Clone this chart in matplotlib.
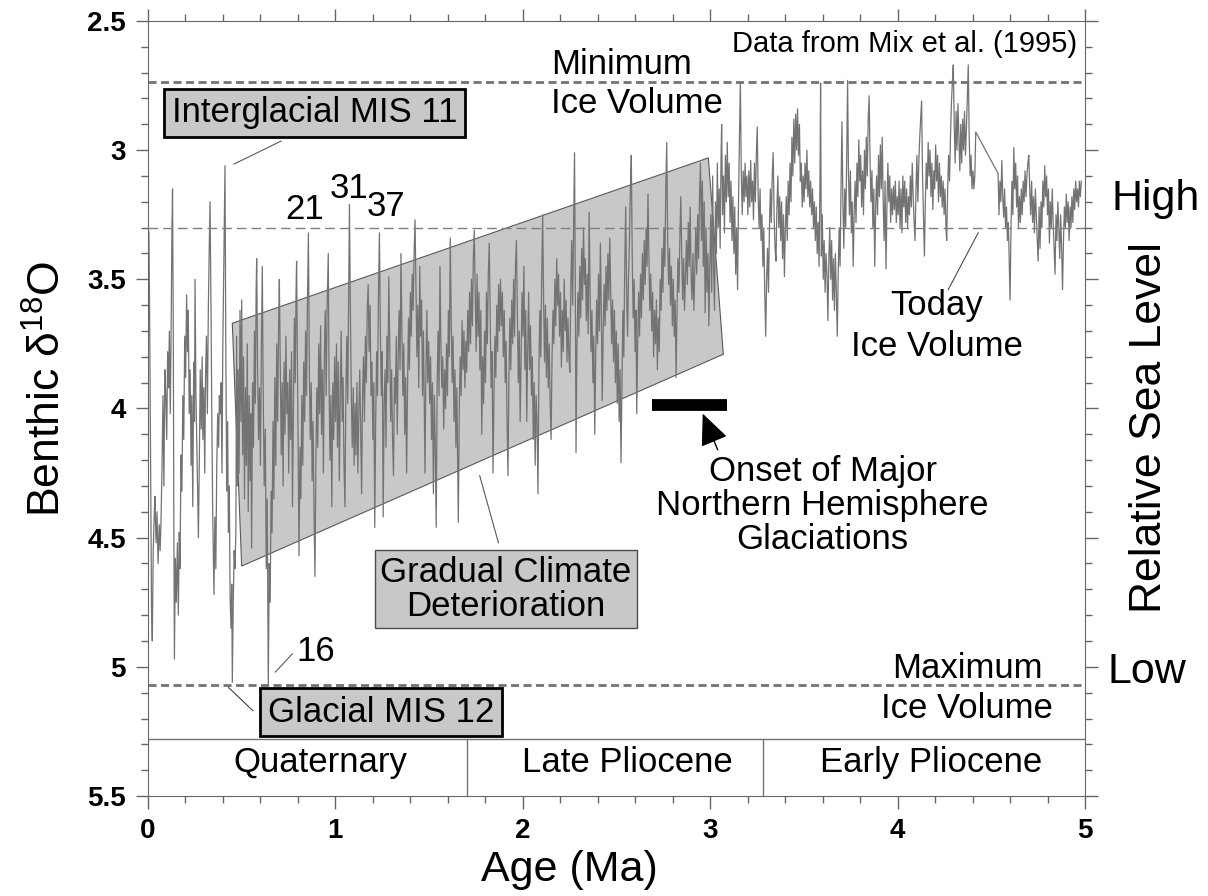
import numpy as np
import matplotlib
matplotlib.use("Agg")
import matplotlib.pyplot as plt

plt.rcParams['font.family'] = ['Liberation Sans', 'DejaVu Sans']
plt.rcParams['mathtext.fontset'] = 'custom'
plt.rcParams['mathtext.rm'] = 'Liberation Sans'

# benthic d18O record, split by 1 Ma blocks
age_0 = [0.000, 0.005, 0.009, 0.014, 0.019, 0.023, 0.028, 0.033, 0.037, 0.043, 0.048, 0.054, 0.060, 0.065, 0.070,
         0.075, 0.080, 0.085, 0.090, 0.095, 0.100, 0.105, 0.110, 0.114, 0.119, 0.124, 0.128, 0.131, 0.135, 0.138,
         0.141, 0.146, 0.151, 0.157, 0.162, 0.167, 0.171, 0.176, 0.181, 0.186, 0.191, 0.196, 0.201, 0.206, 0.211,
         0.215, 0.220, 0.225, 0.230, 0.234, 0.239, 0.244, 0.248, 0.251, 0.256, 0.261, 0.265, 0.269, 0.274, 0.279,
         0.284, 0.289, 0.293, 0.298, 0.303, 0.307, 0.312, 0.317, 0.322, 0.326, 0.331, 0.336, 0.340, 0.345, 0.349,
         0.352, 0.357, 0.362, 0.367, 0.372, 0.377, 0.381, 0.386, 0.390, 0.395, 0.399, 0.403, 0.407, 0.411, 0.415,
         0.420, 0.425, 0.429, 0.434, 0.438, 0.443, 0.447, 0.450, 0.455, 0.460, 0.464, 0.469, 0.473, 0.477, 0.481,
         0.486, 0.491, 0.496, 0.500, 0.505, 0.510, 0.515, 0.520, 0.525, 0.530, 0.535, 0.540, 0.545, 0.549, 0.553,
         0.558, 0.563, 0.568, 0.573, 0.577, 0.580, 0.585, 0.590, 0.595, 0.600, 0.605, 0.610, 0.615, 0.620, 0.626,
         0.631, 0.636, 0.642, 0.647, 0.652, 0.657, 0.662, 0.667, 0.672, 0.677, 0.682, 0.687, 0.692, 0.697, 0.701,
         0.706, 0.711, 0.716, 0.721, 0.726, 0.731, 0.736, 0.741, 0.746, 0.751, 0.756, 0.761, 0.766, 0.771, 0.776,
         0.781, 0.786, 0.790, 0.793, 0.798, 0.802, 0.806, 0.811, 0.816, 0.821, 0.826, 0.831, 0.836, 0.841, 0.846,
         0.851, 0.856, 0.861, 0.866, 0.871, 0.876, 0.881, 0.886, 0.891, 0.896, 0.901, 0.906, 0.911, 0.916, 0.921,
         0.926, 0.931, 0.936, 0.941, 0.946, 0.951, 0.956, 0.962, 0.966, 0.971, 0.976, 0.981, 0.986, 0.991, 0.996]
d18o_0 = [3.30, 3.32, 3.65, 4.25, 4.78, 4.90, 4.55, 4.42, 4.34, 4.52, 4.40, 4.60, 4.45, 4.55, 4.42,
          4.22, 3.95, 4.30, 3.85, 3.95, 4.12, 3.78, 3.92, 3.70, 4.02, 3.65, 3.30, 3.15, 3.70, 4.45,
          4.97, 4.58, 4.75, 4.52, 4.80, 4.48, 4.62, 4.18, 4.32, 3.95, 4.12, 3.72, 3.88, 3.56, 3.78,
          3.62, 4.02, 3.85, 4.22, 3.95, 4.38, 3.82, 4.05, 3.50, 3.95, 4.15, 4.32, 4.50, 4.20, 3.85,
          4.08, 3.80, 4.12, 3.92, 4.25, 3.88, 3.72, 4.02, 3.62, 3.42, 3.20, 3.58, 3.98, 4.38, 4.58,
          4.72, 4.42, 4.62, 4.22, 4.02, 4.15, 3.95, 4.02, 3.90, 4.25, 3.78, 3.55, 3.30, 3.06, 3.72,
          4.32, 4.05, 4.48, 4.30, 4.72, 4.85, 4.68, 5.06, 4.75, 4.55, 4.62, 4.48, 3.72, 4.30, 3.85,
          4.25, 3.62, 4.05, 3.58, 4.18, 3.80, 4.35, 3.92, 4.22, 3.75, 4.40, 3.95, 4.28, 4.02, 4.54,
          3.90, 4.15, 3.70, 3.98, 3.55, 3.42, 3.85, 4.12, 3.92, 4.22, 3.78, 3.45, 3.95, 4.30, 4.08,
          4.62, 4.35, 5.07, 4.60, 4.75, 4.32, 4.48, 4.05, 4.35, 3.88, 4.22, 3.75, 4.05, 3.68, 3.50,
          3.85, 4.18, 3.90, 4.30, 3.82, 4.10, 3.72, 4.02, 3.90, 4.25, 3.85, 4.12, 3.78, 4.38, 4.00,
          3.65, 3.90, 3.55, 3.43, 3.88, 4.25, 4.57, 4.15, 4.35, 3.95, 4.22, 3.82, 4.05, 3.70, 3.95,
          3.58, 3.32, 3.85, 4.12, 3.90, 4.28, 4.05, 4.40, 4.65, 4.20, 3.92, 4.15, 3.75, 4.02, 3.68,
          4.10, 3.85, 4.25, 3.80, 3.62, 3.95, 3.60, 3.40, 3.88, 4.20, 3.95, 4.38, 3.90, 4.12, 3.80]

age_1 = [1.001, 1.006, 1.011, 1.016, 1.021, 1.026, 1.031, 1.036, 1.041, 1.046, 1.051, 1.056, 1.061, 1.066, 1.071,
         1.075, 1.080, 1.085, 1.090, 1.095, 1.100, 1.105, 1.110, 1.115, 1.120, 1.125, 1.130, 1.135, 1.140, 1.145,
         1.150, 1.155, 1.160, 1.165, 1.170, 1.175, 1.180, 1.185, 1.190, 1.195, 1.200, 1.205, 1.210, 1.215, 1.220,
         1.225, 1.230, 1.235, 1.240, 1.245, 1.250, 1.255, 1.260, 1.265, 1.270, 1.275, 1.280, 1.285, 1.290, 1.295,
         1.300, 1.305, 1.310, 1.315, 1.320, 1.325, 1.330, 1.335, 1.340, 1.345, 1.350, 1.355, 1.360, 1.365, 1.370,
         1.375, 1.380, 1.385, 1.390, 1.395, 1.400, 1.405, 1.410, 1.415, 1.420, 1.425, 1.430, 1.435, 1.440, 1.445,
         1.450, 1.455, 1.460, 1.465, 1.470, 1.475, 1.478, 1.483, 1.488, 1.493, 1.498, 1.503, 1.508, 1.513, 1.518,
         1.523, 1.528, 1.533, 1.538, 1.543, 1.548, 1.553, 1.558, 1.563, 1.568, 1.573, 1.578, 1.583, 1.588, 1.593,
         1.598, 1.603, 1.608, 1.613, 1.618, 1.623, 1.628, 1.633, 1.638, 1.643, 1.648, 1.653, 1.656, 1.661, 1.666,
         1.671, 1.676, 1.681, 1.686, 1.691, 1.696, 1.701, 1.706, 1.711, 1.716, 1.721, 1.726, 1.731, 1.736, 1.741,
         1.746, 1.751, 1.756, 1.761, 1.766, 1.771, 1.776, 1.781, 1.786, 1.791, 1.796, 1.801, 1.806, 1.811, 1.816,
         1.821, 1.826, 1.831, 1.836, 1.841, 1.846, 1.851, 1.856, 1.861, 1.866, 1.871, 1.876, 1.881, 1.886, 1.891,
         1.896, 1.901, 1.906, 1.911, 1.916, 1.921, 1.926, 1.931, 1.936, 1.941, 1.946, 1.951, 1.956, 1.961, 1.966,
         1.971, 1.976, 1.981, 1.986, 1.991, 1.996]
d18o_1 = [4.05, 3.75, 4.15, 3.82, 4.28, 3.95, 3.70, 4.05, 3.88, 4.22, 4.38, 3.95, 3.72, 3.98, 3.55,
          3.21, 3.62, 3.95, 4.15, 3.92, 4.22, 3.98, 4.18, 3.90, 4.25, 4.02, 3.85, 4.10, 4.33, 3.95,
          3.80, 4.05, 3.72, 3.90, 3.62, 3.52, 3.78, 3.60, 3.95, 3.82, 4.12, 3.90, 4.46, 4.05, 3.78,
          3.95, 3.55, 3.32, 3.70, 3.95, 3.78, 4.42, 3.98, 3.85, 4.15, 3.72, 3.90, 3.49, 3.75, 4.05,
          3.85, 4.12, 4.26, 3.88, 3.98, 3.72, 4.10, 3.80, 3.62, 3.85, 3.40, 3.70, 3.95, 3.75, 4.10,
          3.88, 4.25, 3.92, 3.65, 3.85, 3.55, 3.72, 3.48, 3.62, 3.40, 3.27, 3.55, 3.80, 3.60, 3.92,
          3.45, 3.72, 3.58, 3.95, 3.70, 4.05, 4.25, 3.85, 3.62, 3.90, 3.74, 3.98, 3.80, 4.12, 3.90,
          4.33, 3.95, 4.15, 4.46, 3.90, 3.70, 3.95, 3.45, 3.75, 3.92, 3.80, 4.08, 3.85, 4.00, 3.75,
          3.95, 3.62, 3.80, 3.34, 3.65, 3.90, 3.72, 4.05, 3.85, 4.15, 3.92, 4.25, 4.44, 4.00, 3.80,
          3.95, 3.66, 3.85, 3.70, 3.92, 3.74, 3.86, 3.62, 3.78, 3.55, 3.75, 3.50, 3.68, 3.42, 3.31,
          3.55, 3.78, 3.48, 3.72, 3.55, 3.85, 3.62, 4.10, 3.80, 3.98, 3.70, 3.90, 3.55, 3.75, 3.48,
          3.36, 3.65, 3.92, 3.78, 4.25, 3.95, 3.72, 3.88, 3.60, 3.78, 3.52, 3.70, 3.50, 3.68, 3.55,
          3.80, 3.62, 3.90, 3.74, 4.05, 4.26, 3.88, 3.65, 3.85, 3.58, 3.75, 3.50, 3.72, 3.45, 3.35,
          3.62, 3.90, 3.70, 4.05, 3.80, 3.55]

age_2 = [2.001, 2.006, 2.011, 2.016, 2.021, 2.026, 2.031, 2.036, 2.041, 2.046, 2.051, 2.056, 2.061, 2.066, 2.071,
         2.076, 2.081, 2.086, 2.091, 2.096, 2.101, 2.106, 2.111, 2.116, 2.121, 2.126, 2.131, 2.136, 2.141, 2.146,
         2.151, 2.156, 2.161, 2.166, 2.171, 2.176, 2.181, 2.186, 2.191, 2.196, 2.201, 2.206, 2.211, 2.216, 2.221,
         2.226, 2.231, 2.236, 2.241, 2.246, 2.251, 2.256, 2.261, 2.266, 2.271, 2.276, 2.280, 2.284, 2.289, 2.294,
         2.299, 2.304, 2.309, 2.314, 2.319, 2.324, 2.329, 2.334, 2.339, 2.344, 2.349, 2.354, 2.359, 2.364, 2.369,
         2.374, 2.379, 2.384, 2.389, 2.394, 2.399, 2.404, 2.409, 2.414, 2.419, 2.424, 2.429, 2.434, 2.439, 2.444,
         2.449, 2.454, 2.459, 2.464, 2.469, 2.474, 2.479, 2.484, 2.489, 2.494, 2.499, 2.504, 2.509, 2.514, 2.519,
         2.524, 2.529, 2.534, 2.539, 2.544, 2.549, 2.554, 2.559, 2.564, 2.569, 2.574, 2.579, 2.584, 2.589, 2.594,
         2.599, 2.604, 2.608, 2.613, 2.618, 2.623, 2.628, 2.633, 2.638, 2.643, 2.648, 2.653, 2.658, 2.663, 2.668,
         2.673, 2.678, 2.683, 2.688, 2.693, 2.698, 2.703, 2.708, 2.713, 2.718, 2.723, 2.728, 2.733, 2.738, 2.743,
         2.748, 2.753, 2.758, 2.763, 2.768, 2.773, 2.778, 2.783, 2.788, 2.793, 2.798, 2.803, 2.808, 2.813, 2.818,
         2.823, 2.828, 2.833, 2.838, 2.843, 2.848, 2.853, 2.858, 2.863, 2.868, 2.873, 2.878, 2.883, 2.888, 2.893,
         2.898, 2.903, 2.908, 2.913, 2.918, 2.923, 2.928, 2.933, 2.938, 2.943, 2.948, 2.953, 2.958, 2.963, 2.968,
         2.973, 2.978, 2.983, 2.988, 2.993, 2.998]
d18o_2 = [3.72, 3.45, 3.85, 3.62, 4.05, 3.78, 3.55, 3.85, 3.68, 3.95, 3.80, 4.12, 3.90, 4.22, 3.95,
          4.05, 4.33, 3.85, 3.62, 3.80, 3.48, 3.25, 3.58, 3.82, 3.60, 3.88, 3.65, 3.92, 3.75, 3.98,
          4.12, 3.80, 3.62, 3.75, 3.50, 3.68, 3.42, 3.60, 3.48, 3.72, 3.55, 3.84, 3.62, 3.78, 3.50,
          3.70, 3.58, 3.82, 3.65, 3.80, 3.86, 3.55, 3.35, 3.60, 3.30, 3.01, 3.50, 4.17, 3.75, 3.55,
          3.72, 3.45, 3.65, 3.38, 3.58, 3.30, 3.52, 3.42, 3.66, 3.48, 3.71, 3.24, 3.55, 3.78, 3.62,
          3.90, 3.72, 4.10, 3.80, 3.58, 3.75, 3.48, 3.70, 3.36, 3.62, 3.97, 3.70, 3.52, 3.68, 3.45,
          3.62, 3.40, 3.58, 3.34, 3.55, 3.75, 3.58, 3.82, 3.62, 3.90, 3.70, 3.98, 3.75, 4.05, 3.85,
          4.21, 3.90, 3.62, 3.80, 3.45, 3.22, 3.55, 3.72, 3.50, 3.35, 3.15, 3.02, 3.42, 3.65, 3.50,
          3.78, 3.62, 4.02, 3.75, 3.55, 3.72, 3.48, 3.65, 3.40, 3.58, 3.35, 3.52, 3.30, 3.45, 3.17,
          3.42, 3.62, 3.48, 3.70, 3.55, 3.80, 3.62, 3.75, 3.58, 3.85, 3.65, 3.78, 3.50, 3.62, 3.38,
          3.55, 3.30, 3.45, 3.15, 2.97, 3.35, 3.52, 3.38, 3.60, 3.45, 3.68, 3.50, 3.72, 3.58, 3.88,
          3.62, 3.42, 3.55, 3.35, 3.18, 3.40, 3.58, 3.42, 3.62, 3.48, 3.35, 3.52, 3.28, 3.45, 3.22,
          3.48, 3.58, 3.40, 3.62, 3.45, 3.30, 3.48, 3.25, 3.42, 3.18, 3.05, 3.35, 3.12, 3.45, 3.20,
          3.63, 3.30, 3.55, 3.40, 3.68, 3.45]

age_3 = [3.003, 3.008, 3.013, 3.018, 3.023, 3.028, 3.033, 3.038, 3.043, 3.048, 3.053, 3.058, 3.061, 3.066, 3.071,
         3.076, 3.081, 3.086, 3.091, 3.096, 3.101, 3.106, 3.111, 3.116, 3.121, 3.126, 3.131, 3.136, 3.141, 3.146,
         3.151, 3.156, 3.161, 3.166, 3.171, 3.176, 3.181, 3.186, 3.191, 3.196, 3.201, 3.206, 3.211, 3.216, 3.221,
         3.226, 3.231, 3.236, 3.241, 3.246, 3.251, 3.256, 3.261, 3.266, 3.271, 3.276, 3.281, 3.286, 3.291, 3.296,
         3.301, 3.306, 3.311, 3.316, 3.321, 3.326, 3.331, 3.336, 3.341, 3.346, 3.351, 3.356, 3.361, 3.366, 3.371,
         3.376, 3.381, 3.386, 3.391, 3.396, 3.401, 3.406, 3.411, 3.416, 3.421, 3.426, 3.431, 3.436, 3.441, 3.446,
         3.451, 3.456, 3.461, 3.466, 3.471, 3.476, 3.481, 3.486, 3.491, 3.496, 3.501, 3.506, 3.511, 3.516, 3.521,
         3.526, 3.531, 3.536, 3.541, 3.546, 3.551, 3.556, 3.561, 3.566, 3.571, 3.576, 3.581, 3.586, 3.589, 3.593,
         3.598, 3.603, 3.608, 3.613, 3.618, 3.623, 3.628, 3.633, 3.638, 3.643, 3.648, 3.653, 3.658, 3.663, 3.668,
         3.673, 3.678, 3.683, 3.688, 3.693, 3.698, 3.703, 3.708, 3.713, 3.718, 3.723, 3.728, 3.733, 3.738, 3.743,
         3.748, 3.753, 3.758, 3.763, 3.768, 3.773, 3.778, 3.783, 3.788, 3.793, 3.798, 3.803, 3.808, 3.813, 3.818,
         3.823, 3.828, 3.833, 3.838, 3.843, 3.848, 3.853, 3.858, 3.863, 3.868, 3.873, 3.878, 3.883, 3.888, 3.893,
         3.898, 3.903, 3.908, 3.913, 3.918, 3.923, 3.928, 3.933, 3.938, 3.943, 3.948, 3.953, 3.958, 3.963, 3.968,
         3.973, 3.978, 3.983, 3.988, 3.993, 3.998]
d18o_3 = [3.25, 3.55, 3.10, 3.45, 3.62, 3.20, 3.40, 3.05, 3.30, 3.15, 3.38, 3.02, 2.90, 3.25, 3.10,
          3.32, 3.02, 3.20, 2.97, 3.18, 3.05, 3.28, 3.12, 3.35, 3.18, 3.40, 3.22, 3.48, 3.30, 3.54,
          3.20, 2.95, 2.735, 3.10, 3.25, 3.08, 3.20, 3.05, 3.18, 3.10, 3.25, 3.08, 3.22, 3.04, 3.20,
          3.12, 3.27, 3.05, 3.20, 3.02, 2.91, 3.18, 3.30, 3.15, 3.35, 3.25, 3.45, 3.30, 3.55, 3.72,
          3.50, 3.38, 3.55, 3.30, 3.15, 3.28, 3.10, 3.01, 3.25, 3.38, 3.43, 3.22, 3.10, 3.30, 3.18,
          3.35, 3.20, 3.42, 3.25, 3.49, 3.30, 3.18, 3.35, 3.12, 3.25, 3.05, 3.20, 2.95, 3.10, 2.88,
          3.05, 2.86, 3.00, 2.84, 3.02, 2.90, 3.12, 3.05, 3.22, 3.10, 3.20, 3.05, 3.15, 3.00, 3.18,
          3.08, 3.22, 3.12, 3.25, 3.15, 3.30, 3.20, 3.35, 3.22, 3.40, 3.28, 3.45, 3.10, 2.74, 3.41,
          3.25, 3.50, 3.35, 3.55, 3.40, 3.48, 3.66, 3.42, 3.30, 3.50, 3.35, 3.58, 3.42, 3.62, 3.40,
          3.55, 3.72, 3.48, 3.30, 3.45, 3.15, 2.89, 3.20, 3.38, 3.15, 3.30, 3.05, 2.73, 3.10, 3.25,
          3.08, 3.32, 3.20, 3.45, 3.25, 3.12, 3.28, 3.05, 3.18, 2.96, 3.12, 3.02, 3.22, 3.08, 3.25,
          3.00, 3.15, 2.95, 3.10, 2.88, 2.79, 3.05, 3.20, 3.08, 3.30, 3.15, 3.45, 3.22, 3.10, 3.25,
          3.02, 3.18, 2.98, 3.15, 2.95, 3.20, 3.35, 3.12, 3.46, 3.22, 3.05, 3.20, 3.10, 3.28, 3.15,
          3.25, 3.14, 3.23, 3.12, 3.28, 3.18]

age_4 = [4.003, 4.008, 4.013, 4.018, 4.023, 4.028, 4.033, 4.038, 4.043, 4.048, 4.053, 4.058, 4.063, 4.068, 4.073,
         4.078, 4.083, 4.088, 4.093, 4.098, 4.103, 4.108, 4.113, 4.118, 4.123, 4.128, 4.133, 4.138, 4.143, 4.148,
         4.153, 4.158, 4.163, 4.168, 4.173, 4.178, 4.183, 4.188, 4.193, 4.198, 4.203, 4.208, 4.213, 4.218, 4.223,
         4.228, 4.233, 4.238, 4.243, 4.248, 4.253, 4.258, 4.262, 4.267, 4.272, 4.277, 4.282, 4.287, 4.292, 4.297,
         4.302, 4.307, 4.312, 4.317, 4.322, 4.327, 4.332, 4.337, 4.342, 4.347, 4.352, 4.357, 4.362, 4.367, 4.372,
         4.377, 4.382, 4.387, 4.392, 4.397, 4.402, 4.407, 4.412, 4.417, 4.536, 4.541, 4.546, 4.551, 4.556, 4.561,
         4.566, 4.571, 4.576, 4.581, 4.586, 4.591, 4.596, 4.600, 4.605, 4.610, 4.615, 4.620, 4.625, 4.630, 4.635,
         4.640, 4.645, 4.650, 4.655, 4.660, 4.665, 4.670, 4.675, 4.680, 4.685, 4.690, 4.695, 4.700, 4.705, 4.710,
         4.715, 4.720, 4.725, 4.730, 4.735, 4.740, 4.745, 4.750, 4.755, 4.760, 4.765, 4.770, 4.775, 4.780, 4.785,
         4.790, 4.795, 4.800, 4.805, 4.810, 4.815, 4.820, 4.825, 4.830, 4.835, 4.840, 4.845, 4.850, 4.855, 4.860,
         4.865, 4.870, 4.875, 4.880, 4.885, 4.890, 4.895, 4.900, 4.905, 4.910, 4.915, 4.920, 4.925, 4.930, 4.935,
         4.940, 4.945, 4.950, 4.955, 4.960, 4.965, 4.970, 4.975, 4.980]
d18o_4 = [3.25, 3.12, 3.30, 3.15, 3.32, 3.10, 3.22, 3.12, 3.28, 3.15, 3.30, 3.18, 3.25, 3.10, 3.22,
          3.05, 3.18, 3.28, 3.35, 3.15, 3.02, 3.20, 3.05, 2.95, 2.88, 2.81, 3.10, 3.25, 3.41, 3.20,
          3.05, 3.15, 2.97, 3.10, 3.00, 3.18, 3.05, 3.23, 3.08, 3.15, 2.98, 3.12, 3.02, 3.20, 3.05,
          3.18, 3.10, 3.22, 3.12, 3.25, 3.15, 3.30, 3.35, 3.15, 3.02, 3.12, 2.95, 2.82, 2.74, 2.67,
          2.90, 3.05, 2.85, 3.00, 2.82, 2.95, 3.08, 2.90, 3.05, 2.88, 3.00, 2.85, 3.02, 2.92, 2.80,
          2.67, 2.95, 3.10, 3.02, 3.15, 3.08, 3.15, 3.10, 2.93, 3.09, 3.25, 3.12, 3.20, 3.04, 3.18,
          3.26, 3.15, 3.30, 3.22, 3.35, 3.28, 3.45, 3.58, 3.30, 3.12, 3.25, 2.99, 3.15, 3.05, 3.22,
          3.10, 3.30, 3.18, 3.28, 3.15, 3.25, 3.12, 3.20, 3.08, 3.18, 3.10, 3.05, 3.02, 3.15, 3.25,
          3.12, 3.28, 3.18, 3.32, 3.15, 3.25, 3.35, 3.43, 3.22, 3.38, 3.20, 3.30, 3.12, 3.22, 3.06,
          3.18, 3.10, 3.25, 3.15, 3.36, 3.20, 3.30, 3.15, 3.28, 3.38, 3.48, 3.25, 3.35, 3.20, 3.30,
          3.42, 3.25, 3.38, 3.54, 3.35, 3.22, 3.30, 3.17, 3.28, 3.20, 3.35, 3.22, 3.30, 3.18, 3.28,
          3.15, 3.23, 3.12, 3.20, 3.15, 3.22, 3.12, 3.18, 3.12]

# "gradual climate deterioration" trend band (corners)
trend_age = [0.45, 2.99, 3.07, 0.50]
trend_d18o = [3.67, 3.03, 3.79, 4.61]

# reference levels
min_ice = 2.735
today_ice = 3.30
max_ice = 5.07
epoch_line = 5.28

epochs = ['Quaternary', 'Late Pliocene', 'Early Pliocene']
epoch_mid = [0.92, 2.56, 4.18]
epoch_bounds = [1.70, 3.28]

age = np.concatenate([age_0, age_1, age_2, age_3, age_4])
d18o = np.concatenate([d18o_0, d18o_1, d18o_2, d18o_3, d18o_4])

fig = plt.figure(figsize=(12.08, 8.96), dpi=100)
ax = fig.add_axes([0.1225, 0.1116, 0.7757, 0.8650])

ax.fill(trend_age, trend_d18o, facecolor='#c8c8c8', edgecolor='0.35', lw=0.8, zorder=1)
ax.plot(age, d18o, color='0.45', lw=0.9, zorder=2)

ax.axhline(min_ice, color='0.45', lw=2, ls=(0, (2.9, 1.6)), zorder=3)
ax.axhline(max_ice, color='0.45', lw=2, ls=(0, (2.9, 1.6)), zorder=3)
ax.axhline(today_ice, color='0.5', lw=1, ls=(0, (7, 3.6)), zorder=3)
ax.axhline(epoch_line, color='0.45', lw=1, zorder=3)
for b in epoch_bounds:
    ax.vlines(b, epoch_line, 5.5, color='0.45', lw=1, zorder=3)
for name, xm in zip(epochs, epoch_mid):
    ax.text(xm, 5.37, name, ha='center', va='center', fontsize=25)

# onset bar + arrow
ax.hlines(3.985, 2.69, 3.09, color='black', lw=8.5, zorder=4)
ax.annotate('', xy=(2.96, 4.02), xytext=(3.04, 4.16),
            arrowprops=dict(arrowstyle='-|>,head_length=0.9,head_width=0.4', color='black',
                            lw=1, mutation_scale=22, shrinkA=0, shrinkB=0), zorder=5)
ax.text(3.60, 4.375, 'Onset of Major\nNorthern Hemisphere\nGlaciations', ha='center', va='center',
        fontsize=25, linespacing=1.05)

box_thick = dict(boxstyle='square,pad=0.22', facecolor='#c8c8c8', edgecolor='black', lw=2)
box_thin = dict(boxstyle='square,pad=0.15', facecolor='#c8c8c8', edgecolor='0.3', lw=1)

ax.text(0.888, 2.856, 'Interglacial MIS 11', ha='center', va='center', fontsize=25, bbox=box_thick, zorder=6)
ax.plot([0.71, 0.459], [2.965, 3.054], color='0.35', lw=0.8, zorder=5)
ax.text(1.245, 5.175, 'Glacial MIS 12', ha='center', va='center', fontsize=25, bbox=box_thick, zorder=6)
ax.plot([0.43, 0.56], [5.08, 5.17], color='0.25', lw=0.8, zorder=5)
ax.text(1.91, 4.70, 'Gradual Climate\nDeterioration', ha='center', va='center', fontsize=25,
        linespacing=1.05, bbox=box_thin, zorder=6)
ax.plot([1.87, 1.77], [4.52, 4.26], color='0.35', lw=0.8, zorder=5)

ax.text(0.838, 3.23, '21', ha='center', va='center', fontsize=25)
ax.text(1.073, 3.147, '31', ha='center', va='center', fontsize=25)
ax.text(1.27, 3.22, '37', ha='center', va='center', fontsize=25)
ax.text(0.895, 4.94, '16', ha='center', va='center', fontsize=25)
ax.plot([0.77, 0.68], [4.95, 5.02], color='0.35', lw=0.8)

ax.text(2.15, 2.667, 'Minimum', ha='left', va='center', fontsize=25)
ax.text(2.15, 2.82, 'Ice Volume', ha='left', va='center', fontsize=25)
ax.text(4.96, 2.59, 'Data from Mix et al. (1995)', ha='right', va='center', fontsize=21)
ax.text(4.21, 3.60, 'Today', ha='center', va='center', fontsize=25)
ax.text(4.21, 3.76, 'Ice Volume', ha='center', va='center', fontsize=25)
ax.plot([4.27, 4.43], [3.54, 3.32], color='0.3', lw=0.8)
ax.text(4.37, 5.005, 'Maximum', ha='center', va='center', fontsize=25)
ax.text(4.37, 5.16, 'Ice Volume', ha='center', va='center', fontsize=25)

# right-hand sea level annotation
ytr = ax.get_yaxis_transform()
ax.text(1.075, 3.19, 'High', transform=ytr, ha='center', va='center', fontsize=31, clip_on=False)
ax.text(1.066, 5.02, 'Low', transform=ytr, ha='center', va='center', fontsize=31, clip_on=False)
ax.text(1.069, 4.075, 'Relative Sea Level', transform=ytr, ha='center', va='center', rotation=90,
        fontsize=32, clip_on=False)

ax.set_xlim(0, 5)
ax.set_ylim(5.5, 2.5)
ax.set_xticks([0, 1, 2, 3, 4, 5])
ax.set_xticks(np.arange(0, 5.01, 0.2), minor=True)
ax.set_yticks([2.5, 3, 3.5, 4, 4.5, 5, 5.5])
ax.set_yticklabels(['2.5', '3', '3.5', '4', '4.5', '5', '5.5'])
ax.set_yticks(np.arange(2.5, 5.51, 0.1), minor=True)
ax.tick_params(which='both', direction='out', top=True, right=True, color='0.4')
ax.tick_params(which='major', length=9, width=1, labelsize=20, pad=7)
ax.tick_params(which='minor', length=5, width=1)
for lab in ax.get_xticklabels() + ax.get_yticklabels():
    lab.set_fontweight('bold')
for s in ax.spines.values():
    s.set_color('0.4')

ax.set_xlabel('Age (Ma)', fontsize=31)
ax.xaxis.set_label_coords(0.45, -0.095)
ax.xaxis.label.set_va('center')
ax.set_ylabel('Benthic δ$^{\\mathregular{18}}$O', fontsize=32)
ax.yaxis.set_label_coords(-0.107, 0.525)
ax.yaxis.label.set_va('center')

fig.savefig('out.png', dpi=100, facecolor='white')
